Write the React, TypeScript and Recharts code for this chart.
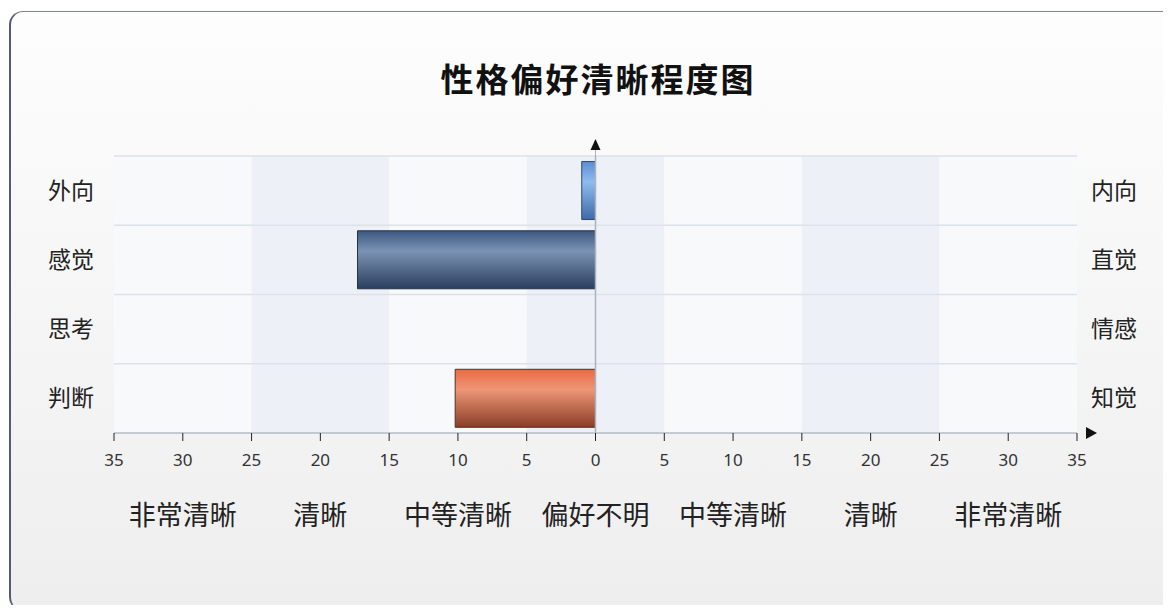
import React from "react";
import {
  BarChart,
  Bar,
  Cell,
  XAxis,
  YAxis,
  ReferenceArea,
  ReferenceLine,
} from "recharts";

// preference pairs: left pole / right pole
const categories = ["外向", "感觉", "思考", "判断"];
const opposites = ["内向", "直觉", "情感", "知觉"];
// negative = towards the left pole
const scores = [-1, -17.3, 0, -10.2];

const axisTicks = [-35, -30, -25, -20, -15, -10, -5, 0, 5, 10, 15, 20, 25, 30, 35];
const zoneTicks = [-30, -20, -10, 0, 10, 20, 30];
const zoneLabels = ["非常清晰", "清晰", "中等清晰", "偏好不明", "中等清晰", "清晰", "非常清晰"];
const bandEdges = [-35, -25, -15, -5, 5, 15, 25, 35];

const data = categories.map((c, i) => ({ left: c, right: opposites[i], value: scores[i] }));

const W = 1163;
const H = 597;
const margin = { top: 148, right: 94, bottom: 82, left: 46 };
const plotRight = W - margin.right;

const barPalette = [
  { top: "#5b8ed2", mid: "#8fbcef", bottom: "#3f6aa6", stroke: "#2f4a72" },
  { top: "#3c5880", mid: "#7b93b4", bottom: "#2b3f60", stroke: "#253349" },
  { top: "#6f8fb8", mid: "#a7bddb", bottom: "#4d6d96", stroke: "#34496a" },
  { top: "#ea6a42", mid: "#ee9677", bottom: "#8a3d26", stroke: "#553022" },
];

const cjk = '"Noto Sans CJK SC", "Noto Sans", sans-serif';

function SideTick(props: any) {
  const { x, y, payload, index } = props;
  return (
    <g>
      <text x={x} y={y} dy="0.35em" textAnchor="end" fontSize={23} fill="#222" fontFamily={cjk}>
        {payload.value}
      </text>
      <text x={plotRight + 14} y={y} dy="0.35em" textAnchor="start" fontSize={23} fill="#222" fontFamily={cjk}>
        {opposites[index]}
      </text>
    </g>
  );
}

function XArrow(props: any) {
  const vb = props.viewBox || {};
  const x = (vb.x || 0) + (vb.width || 0);
  const y = vb.y || 0;
  return <polygon points={`${x + 9},${y - 6} ${x + 20},${y} ${x + 9},${y + 6}`} fill="#111" />;
}

function YArrow(props: any) {
  const vb = props.viewBox || {};
  const x = vb.x || 0;
  const y = vb.y || 0;
  return (
    <g>
      <line x1={x} x2={x} y1={y - 9} y2={y} stroke="#aab2be" />
      <polygon points={`${x - 5},${y - 6} ${x},${y - 17} ${x + 5},${y - 6}`} fill="#111" />
    </g>
  );
}

export default function App() {
  return (
    <div style={{ position: "relative", width: W, height: H, overflow: "hidden" }}>
      <div
        style={{
          position: "absolute",
          left: 1,
          top: 3,
          width: 1220,
          height: 600,
          borderLeft: "2px solid #545c6b",
          borderTop: "1.5px solid #80868f",
          borderTopLeftRadius: 14,
          borderBottomLeftRadius: 14,
          background: "linear-gradient(#fdfdfd, #eeeeee)",
          boxSizing: "border-box",
        }}
      />
      <div
        style={{
          position: "absolute",
          left: 590,
          top: 54,
          transform: "translateX(-50%)",
          whiteSpace: "nowrap",
          fontFamily: cjk,
          fontWeight: 700,
          fontSize: 33,
          lineHeight: 1,
          letterSpacing: 2,
          color: "#111",
        }}
      >
        性格偏好清晰程度图
      </div>
      <div style={{ position: "absolute", left: 0, top: 0 }}>
        <BarChart
          width={W}
          height={H}
          data={data}
          layout="vertical"
          margin={margin}
          barCategoryGap="8%"
        >
          <defs>
            {barPalette.map((p, i) => (
              <linearGradient key={i} id={`bar${i}`} x1="0" y1="0" x2="0" y2="1">
                <stop offset="0%" stopColor={p.top} />
                <stop offset="35%" stopColor={p.mid} />
                <stop offset="100%" stopColor={p.bottom} />
              </linearGradient>
            ))}
          </defs>
          {bandEdges.slice(0, -1).map((e, i) => (
            <ReferenceArea
              key={e}
              x1={e}
              x2={bandEdges[i + 1]}
              fill={i % 2 === 0 ? "#f7f9fb" : "#edf1f7"}
              fillOpacity={1}
              stroke="none"
              ifOverflow="visible"
            />
          ))}
          {categories.map((c) => (
            <ReferenceLine key={c} y={c} position="start" stroke="#dde2ea" strokeWidth={1.5} />
          ))}
          <XAxis
            type="number"
            dataKey="value"
            domain={[-35, 35]}
            ticks={axisTicks}
            interval={0}
            allowDataOverflow
            tickFormatter={(v: number) => String(Math.abs(v))}
            axisLine={{ stroke: "#b4bbc6", strokeWidth: 1.5 }}
            tickLine={{ stroke: "#222" }}
            tickSize={8}
            tickMargin={13}
            height={30}
            tick={{ fontSize: 17, fill: "#333", fontFamily: '"Noto Sans", sans-serif' }}
            label={<XArrow />}
          />
          <XAxis
            xAxisId="zone"
            type="number"
            domain={[-35, 35]}
            ticks={zoneTicks}
            interval={0}
            allowDataOverflow
            tickFormatter={(v: number) => zoneLabels[zoneTicks.indexOf(v)]}
            axisLine={false}
            tickLine={false}
            tickSize={0}
            tickMargin={43}
            height={60}
            tick={{ fontSize: 27, fill: "#222", fontFamily: cjk }}
          />
          <YAxis
            type="category"
            dataKey="left"
            width={60}
            axisLine={false}
            tickLine={false}
            tickSize={0}
            tickMargin={20}
            tick={<SideTick />}
            interval={0}
          />
          <ReferenceLine x={0} stroke="#aab2be" strokeWidth={1.5} label={<YArrow />} />
          <Bar dataKey="value" isAnimationActive={false}>
            {data.map((_, i) => (
              <Cell key={i} fill={`url(#bar${i})`} stroke={barPalette[i].stroke} strokeWidth={1} />
            ))}
          </Bar>
        </BarChart>
      </div>
    </div>
  );
}
